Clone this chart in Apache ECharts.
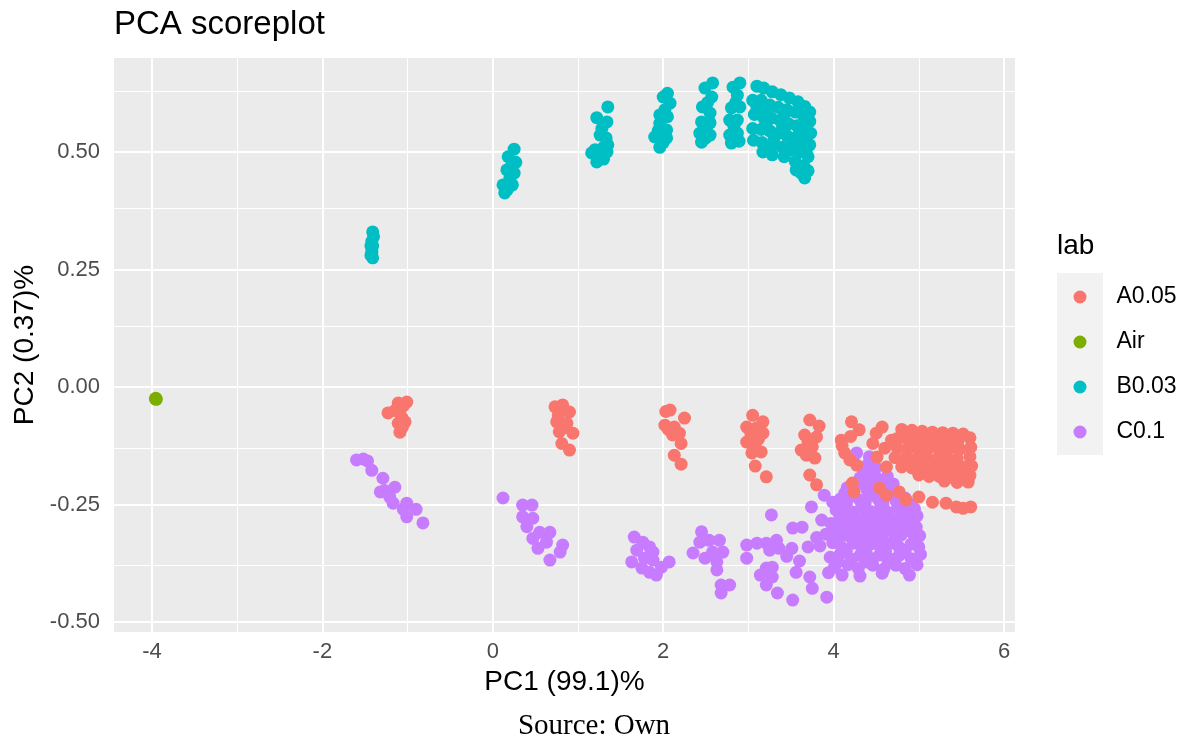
<!DOCTYPE html>
<html>
<head>
<meta charset="utf-8">
<script src="https://cdn.jsdelivr.net/npm/echarts@6/dist/echarts.min.js"></script>
<style>html,body{margin:0;padding:0;background:#fff}#chart{width:1188px;height:742px}</style>
</head>
<body>
<div id="chart"></div>
<script>
// ---- tick values ----
const xMajorTicks = [-4, -2, 0, 2, 4, 6];
const xMinorTicks = [-3, -1, 1, 3, 5];
const yMajorTicks = [-0.5, -0.25, 0, 0.25, 0.5];
const yMinorTicks = [-0.375, -0.125, 0.125, 0.375, 0.625];

// ---- categories ----
const groups = ['A0.05', 'Air', 'B0.03', 'C0.1'];
const colors = ['#F8766D', '#7CAE00', '#00BFC4', '#C77CFF'];

// ---- series values [PC1, PC2] ----
const ptsA005 = [
  [-1.11,-0.034],[-1.01,-0.032],[-1.05,-0.04],[-1.23,-0.055],[-1.15,-0.05],[-1.07,-0.064],[-1.03,-0.074],[-1.11,-0.077],[-1.09,-0.096],[-1.06,-0.085],
  [0.73,-0.042],[0.82,-0.038],[0.90,-0.053],[0.77,-0.06],[0.75,-0.074],[0.87,-0.077],[0.82,-0.088],[0.94,-0.098],[0.78,-0.095],[0.81,-0.12],[0.90,-0.134],
  [2.08,-0.049],[2.03,-0.052],[2.25,-0.066],[2.02,-0.081],[2.13,-0.085],[2.19,-0.098],[2.11,-0.102],[2.06,-0.09],[2.21,-0.12],[2.13,-0.145],[2.21,-0.164],
  [3.05,-0.06],[3.17,-0.074],[2.98,-0.085],[3.09,-0.087],[3.03,-0.10],[3.17,-0.098],[2.98,-0.117],[3.08,-0.12],[3.12,-0.11],[3.15,-0.138],[3.04,-0.14],[3.08,-0.168],[3.21,-0.191],
  [3.72,-0.07],[3.83,-0.083],[3.66,-0.102],[3.80,-0.106],[3.70,-0.115],[3.62,-0.134],[3.75,-0.127],[3.68,-0.145],[3.78,-0.151],[3.72,-0.187],[3.80,-0.208],
  [4.21,-0.074],[4.30,-0.091],[4.09,-0.113],[4.20,-0.105],[4.13,-0.14],[4.19,-0.155],[4.27,-0.166],[4.10,-0.125],
  [4.57,-0.085],[4.50,-0.098],[4.46,-0.12],[4.51,-0.149],[4.62,-0.17],[4.68,-0.113],[4.60,-0.13],
  [4.80,-0.09],[4.92,-0.092],[5.04,-0.094],[5.16,-0.096],[5.28,-0.097],[5.40,-0.098],[5.52,-0.10],
  [4.74,-0.11],[4.86,-0.11],[4.98,-0.112],[5.10,-0.112],[5.22,-0.114],[5.34,-0.114],[5.46,-0.115],[5.60,-0.108],
  [4.75,-0.13],[4.88,-0.13],[5.00,-0.132],[5.12,-0.13],[5.24,-0.133],[5.36,-0.13],[5.48,-0.132],[5.61,-0.128],
  [4.72,-0.15],[4.85,-0.15],[4.97,-0.152],[5.09,-0.15],[5.21,-0.153],[5.33,-0.15],[5.45,-0.152],[5.60,-0.148],
  [4.80,-0.17],[4.92,-0.172],[5.04,-0.17],[5.16,-0.173],[5.28,-0.17],[5.40,-0.172],[5.52,-0.17],[5.62,-0.168],
  [5.00,-0.187],[5.12,-0.19],[5.24,-0.19],[5.36,-0.192],[5.48,-0.19],[5.60,-0.188],[5.30,-0.20],[5.45,-0.203],[5.58,-0.202],
  [4.22,-0.204],[4.24,-0.223],[4.54,-0.215],[4.62,-0.23],[4.77,-0.223],[4.85,-0.24],[5.0,-0.234],[5.16,-0.245],[5.32,-0.247],[5.44,-0.255],[5.52,-0.258],[5.61,-0.255]
];
const ptsAir = [[-3.96,-0.025],[-3.95,-0.026],[-3.955,-0.024]];
const ptsB003 = [
  [-1.41,0.33],[-1.40,0.32],[-1.42,0.31],[-1.43,0.30],[-1.41,0.30],[-1.42,0.29],[-1.43,0.28],[-1.41,0.275],[-1.42,0.285],
  [0.25,0.506],[0.18,0.49],[0.27,0.478],[0.22,0.47],[0.165,0.462],[0.25,0.455],[0.20,0.445],[0.12,0.43],[0.23,0.43],[0.17,0.42],[0.14,0.413],
  [1.35,0.596],[1.22,0.573],[1.34,0.564],[1.28,0.55],[1.26,0.536],[1.33,0.53],[1.35,0.515],[1.30,0.51],[1.34,0.50],[1.20,0.505],[1.16,0.498],[1.25,0.49],[1.22,0.479],[1.30,0.485],
  [2.05,0.625],[2.0,0.617],[2.08,0.604],[2.02,0.59],[1.96,0.579],[2.05,0.575],[1.96,0.561],[2.04,0.547],[1.99,0.54],[1.90,0.532],[2.04,0.53],[1.96,0.51],[2.0,0.52],[1.94,0.545],
  [2.58,0.647],[2.49,0.636],[2.57,0.617],[2.52,0.605],[2.46,0.596],[2.55,0.583],[2.45,0.564],[2.55,0.562],[2.50,0.55],[2.43,0.54],[2.55,0.536],[2.45,0.521],[2.50,0.53],
  [2.90,0.647],[2.82,0.638],[2.87,0.621],[2.85,0.605],[2.80,0.594],[2.90,0.596],[2.78,0.568],[2.87,0.568],[2.83,0.555],[2.78,0.536],[2.87,0.54],[2.80,0.519],[2.89,0.523],
  [3.10,0.64],[3.18,0.636],[3.28,0.628],[3.38,0.622],[3.48,0.615],[3.58,0.607],[3.66,0.597],[3.72,0.585],
  [3.05,0.61],[3.15,0.61],[3.25,0.60],[3.35,0.595],[3.45,0.59],[3.55,0.585],[3.65,0.575],[3.72,0.565],
  [3.07,0.58],[3.17,0.575],[3.27,0.572],[3.37,0.567],[3.47,0.56],[3.57,0.556],[3.66,0.548],[3.73,0.54],
  [3.05,0.55],[3.15,0.548],[3.25,0.545],[3.35,0.54],[3.45,0.535],[3.55,0.53],[3.64,0.522],[3.72,0.515],
  [3.06,0.525],[3.16,0.52],[3.28,0.515],[3.40,0.51],[3.50,0.505],[3.60,0.50],[3.70,0.49],
  [3.10,0.595],[3.22,0.588],[3.42,0.58],[3.62,0.59],[3.20,0.56],[3.40,0.552],[3.60,0.54],[3.30,0.528],[3.52,0.518],[3.68,0.505],
  [3.17,0.50],[3.28,0.494],[3.42,0.49],[3.55,0.48],[3.65,0.47],[3.70,0.46],[3.56,0.462],[3.62,0.455],[3.66,0.445]
];
const ptsC01 = [
  [-1.60,-0.155],[-1.52,-0.153],[-1.47,-0.157],[-1.42,-0.177],[-1.29,-0.194],[-1.27,-0.22],[-1.32,-0.223],[-1.15,-0.213],[-1.21,-0.234],[-1.17,-0.247],[-1.01,-0.247],[-1.05,-0.26],[-0.90,-0.26],[-1.01,-0.276],[-0.82,-0.289],
  [0.12,-0.236],[0.35,-0.251],[0.46,-0.251],[0.35,-0.276],[0.47,-0.279],[0.40,-0.297],[0.55,-0.309],[0.67,-0.309],[0.47,-0.322],[0.63,-0.33],[0.53,-0.343],[0.82,-0.336],[0.79,-0.351],[0.67,-0.368],
  [1.66,-0.319],[1.76,-0.33],[1.84,-0.34],[1.69,-0.347],[1.88,-0.351],[1.63,-0.372],[1.78,-0.364],[1.88,-0.368],[1.75,-0.385],[1.84,-0.394],[1.92,-0.40],[1.98,-0.383],[2.07,-0.372],
  [2.45,-0.308],[2.43,-0.33],[2.54,-0.326],[2.66,-0.326],[2.35,-0.353],[2.49,-0.364],[2.58,-0.351],[2.70,-0.351],[2.63,-0.372],[2.63,-0.389],[2.68,-0.421],[2.78,-0.421],[2.68,-0.438],
  [2.98,-0.336],[3.10,-0.332],[3.21,-0.332],[3.33,-0.326],[2.98,-0.364],[3.25,-0.347],[3.36,-0.343],[3.51,-0.343],[3.21,-0.385],[3.28,-0.383],[3.28,-0.404],[3.21,-0.421],[3.34,-0.438],[3.52,-0.453],[3.56,-0.394],[3.72,-0.404],[3.75,-0.428],[3.92,-0.447],[3.63,-0.298],[3.52,-0.30],[3.27,-0.272],[3.74,-0.255],[3.89,-0.23],[3.14,-0.40],[3.60,-0.37],[3.45,-0.36],[3.70,-0.34],[3.80,-0.32],
  [4.27,-0.14],[4.42,-0.148],[4.40,-0.165],[4.50,-0.172],[4.13,-0.226],[3.99,-0.245],[4.35,-0.178],
  [4.31,-0.193],[4.43,-0.188],[4.52,-0.196],[4.63,-0.19],
  [4.16,-0.214],[4.27,-0.207],[4.39,-0.218],[4.47,-0.208],[4.59,-0.216],[4.70,-0.206],
  [4.08,-0.238],[4.21,-0.232],[4.31,-0.241],[4.43,-0.231],[4.53,-0.24],[4.61,-0.232],[4.73,-0.242],[4.84,-0.236],
  [4.03,-0.262],[4.11,-0.257],[4.23,-0.266],[4.33,-0.256],[4.45,-0.265],[4.55,-0.258],[4.63,-0.266],[4.75,-0.257],[4.85,-0.266],[4.95,-0.259],
  [3.86,-0.283],[3.97,-0.29],[4.07,-0.281],[4.19,-0.289],[4.29,-0.282],[4.41,-0.291],[4.49,-0.283],[4.61,-0.29],[4.71,-0.282],[4.83,-0.291],[4.93,-0.284],
  [3.91,-0.313],[4.01,-0.306],[4.15,-0.315],[4.25,-0.307],[4.37,-0.316],[4.49,-0.308],[4.57,-0.316],[4.69,-0.307],[4.79,-0.315],[4.91,-0.308],[5.01,-0.316],
  [3.84,-0.338],[3.99,-0.331],[4.09,-0.34],[4.23,-0.332],[4.33,-0.341],[4.45,-0.333],[4.55,-0.34],[4.67,-0.332],[4.77,-0.341],[4.91,-0.334],[5.00,-0.34],
  [3.96,-0.362],[4.07,-0.357],[4.21,-0.366],[4.31,-0.358],[4.46,-0.365],[4.54,-0.357],[4.67,-0.366],[4.77,-0.358],[4.91,-0.365],[5.02,-0.356],
  [4.01,-0.383],[4.17,-0.378],[4.29,-0.386],[4.46,-0.379],[4.59,-0.387],[4.73,-0.379],[4.84,-0.386],[4.98,-0.378],
  [4.10,-0.40],[4.31,-0.402],[4.57,-0.396],[4.89,-0.40],[3.94,-0.395],
  [4.36,-0.202],[4.56,-0.204],[4.22,-0.222],[4.48,-0.225],[4.66,-0.222],[4.15,-0.248],[4.37,-0.248],[4.58,-0.25],[4.79,-0.248],[4.90,-0.25],
  [4.17,-0.274],[4.39,-0.273],[4.60,-0.276],[4.80,-0.274],[4.98,-0.274],[4.12,-0.298],[4.34,-0.3],[4.55,-0.298],[4.76,-0.3],[4.97,-0.298],
  [4.05,-0.324],[4.29,-0.324],[4.51,-0.326],[4.73,-0.324],[4.96,-0.326],[4.15,-0.35],[4.38,-0.348],[4.61,-0.35],[4.84,-0.348],[4.05,-0.372],[4.38,-0.372],[4.64,-0.372],[4.96,-0.37]
];
const seriesPts = [ptsA005, ptsAir, ptsB003, ptsC01];
const seriesZ = [5, 4, 4, 3];

const FONT = 'Liberation Sans, Arial, Helvetica, sans-serif';
const chart = echarts.init(document.getElementById('chart'), null, {renderer: 'canvas'});

const gridLines = [];
xMajorTicks.forEach(v => gridLines.push({xAxis: v, lineStyle: {color: '#fff', width: 2, type: 'solid'}}));
xMinorTicks.forEach(v => gridLines.push({xAxis: v, lineStyle: {color: '#fff', width: 1, type: 'solid'}}));
yMajorTicks.forEach(v => gridLines.push({yAxis: v, lineStyle: {color: '#fff', width: 2, type: 'solid'}}));
yMinorTicks.forEach(v => gridLines.push({yAxis: v, lineStyle: {color: '#fff', width: 1, type: 'solid'}}));

const series = [{
  name: '__grid', type: 'scatter', data: [], z: 1, silent: true,
  markLine: {silent: true, z: 1, symbol: ['none', 'none'], label: {show: false}, animation: false, data: gridLines}
}];
groups.forEach((g, i) => {
  series.push({
    name: g, type: 'scatter', data: seriesPts[i], symbol: 'circle', symbolSize: 13,
    itemStyle: {color: colors[i], opacity: 1}, z: seriesZ[i]
  });
});

chart.setOption({
  animation: false,
  backgroundColor: '#ffffff',
  title: {
    text: 'PCA scoreplot', left: 114, top: 8, padding: 0,
    textStyle: {fontFamily: FONT, fontSize: 33, fontWeight: 'normal', color: '#000'}
  },
  grid: {left: 114, top: 58, width: 901, height: 574, show: true, backgroundColor: '#EBEBEB', borderWidth: 0},
  xAxis: {
    type: 'value', min: -4.446, max: 6.129,
    name: 'PC1 (99.1)%', nameLocation: 'middle', nameGap: 31,
    nameTextStyle: {fontFamily: FONT, fontSize: 28, color: '#000'},
    axisLine: {show: false},
    axisTick: {show: true, length: 6, lineStyle: {color: '#333', width: 1.5}, customValues: xMajorTicks},
    axisLabel: {fontFamily: FONT, fontSize: 22, color: '#4D4D4D', margin: 9, customValues: xMajorTicks,
      formatter: v => String(v)},
    splitLine: {show: false}
  },
  yAxis: {
    type: 'value', min: -0.521, max: 0.700,
    name: 'PC2 (0.37)%', nameLocation: 'middle', nameGap: 72,
    nameTextStyle: {fontFamily: FONT, fontSize: 28, color: '#000'},
    axisLine: {show: false},
    axisTick: {show: true, length: 6, lineStyle: {color: '#333', width: 1.5}, customValues: yMajorTicks},
    axisLabel: {fontFamily: FONT, fontSize: 22, color: '#4D4D4D', margin: 14, customValues: yMajorTicks,
      formatter: v => v.toFixed(2)},
    splitLine: {show: false}
  },
  legend: {
    data: groups, orient: 'vertical', left: 1073.5, top: 284, padding: 0,
    itemWidth: 13, itemHeight: 13, itemGap: 19, icon: 'circle',
    textStyle: {fontFamily: FONT, fontSize: 23, color: '#000', lineHeight: 26, padding: [0, 0, 0, 25]},
    selectedMode: false
  },
  graphic: [
    {type: 'rect', left: 1057, top: 273, shape: {width: 46, height: 182}, style: {fill: '#F2F2F2'}, z: 0, silent: true},
    {type: 'text', left: 1057, top: 232, style: {text: 'lab', font: '28px ' + FONT, fill: '#000'}},
    {type: 'text', left: 'center', top: 712, style: {text: 'Source: Own', font: '29px "Liberation Serif", "DejaVu Serif", serif', fill: '#000'}}
  ],
  series: series
});
</script>
</body>
</html>
